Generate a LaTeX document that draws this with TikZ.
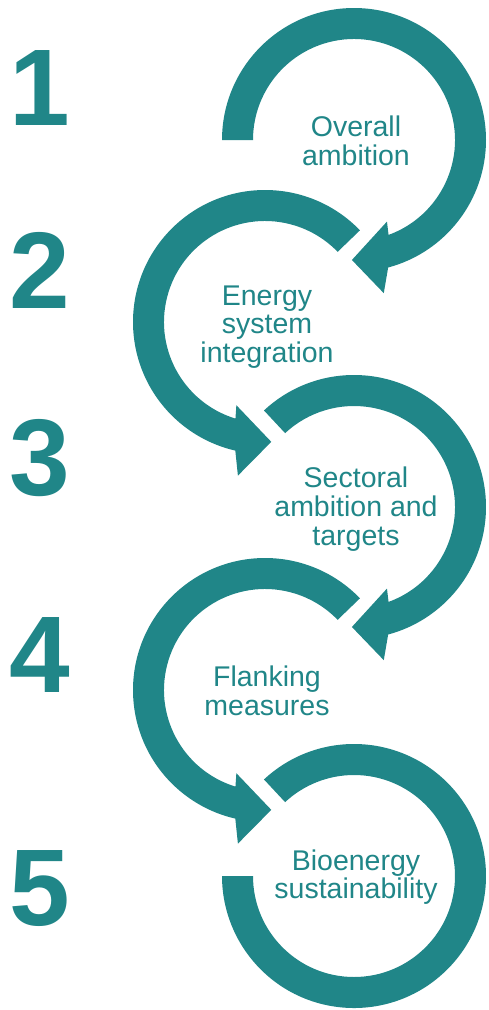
\documentclass[tikz,border=0pt]{standalone}
\usepackage{fontspec}
\setmainfont{Liberation Sans}
\definecolor{ringteal}{RGB}{32,134,136}

% clockwise ring segment from angle #2 round to an arrowhead at the bottom, centred at #1
\newcommand\ringcw[2]{%
  \fill[ring,shift={(#1)}] (#2:132pt) arc[start angle=#2,end angle=-75,radius=132pt]
    -- (-79:156pt) -- (-91:120pt) -- (-68:88pt) -- (-70:101pt)
    arc[start angle=-70,end angle=#2,radius=101pt] -- cycle;}
% counter-clockwise ring segment from angle #2 round to an arrowhead at the bottom
\newcommand\ringccw[2]{%
  \fill[ring,shift={(#1)}] (#2:132pt) arc[start angle=#2,end angle=257,radius=132pt]
    -- (260:156pt) -- (273:120pt) -- (251:88pt) -- (253:101pt)
    arc[start angle=253,end angle=#2,radius=101pt] -- cycle;}

\begin{document}
\begin{tikzpicture}[x=1pt,y=1pt,
  ring/.style={fill=ringteal,draw=none},
  stepnum/.style={anchor=base,inner sep=0pt,text=ringteal,
    font=\fontsize{109}{109}\selectfont\bfseries},
  steplabel/.style={anchor=center,inner sep=0pt,align=center,text=ringteal,
    font=\fontsize{28.5}{28.7}\selectfont}]
\useasboundingbox (0,0) rectangle (488,-1010);

% ring centres
\coordinate (c1) at (354,-140);
\coordinate (c2) at (265,-322);
\coordinate (c3) at (354,-507);
\coordinate (c4) at (265,-690);
\coordinate (c5) at (354,-876);

% rings with arrowheads
\ringcw{c1}{180}
\ringccw{c2}{44}
\ringcw{c3}{133}
\ringccw{c4}{44}
\fill[ring,shift={(c5)}] (133:132pt) arc[start angle=133,end angle=-180,radius=132pt]
  -- (-180:101pt) arc[start angle=-180,end angle=133,radius=101pt] -- cycle;

% step numbers
\node[stepnum] (n1) at (40,-125) {1};
\node[stepnum] (n2) at (40,-308) {2};
\node[stepnum] (n3) at (40,-495) {3};
\node[stepnum] (n4) at (40,-692) {4};
\node[stepnum] (n5) at (40,-925) {5};

% step labels
\node[steplabel] (l1) at (356,-141) {Overall\\ambition};
\node[steplabel] (l2) at (267,-327) {Energy\\system\\integration};
\node[steplabel] (l3) at (356,-509) {Sectoral\\ambition and\\targets};
\node[steplabel] (l4) at (267,-691) {Flanking\\measures};
\node[steplabel] (l5) at (356,-877) {Bioenergy\\sustainability};
\end{tikzpicture}
\end{document}
